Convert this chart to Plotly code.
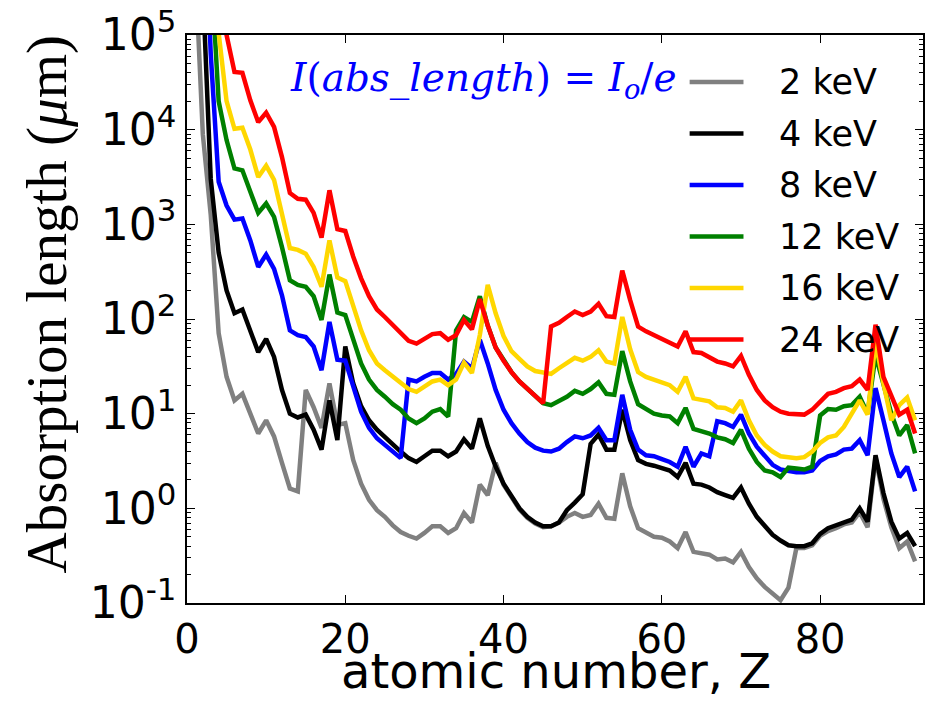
import plotly.graph_objects as go

# atomic number Z = 1..92
Z = list(range(1, 93))

# absorption length (um), one list per photon energy
abs_2keV = [6.3e5, 8900, 1260, 70.8, 24.5, 13.8, 16.2, 10.0, 6.17, 8.51,
            5.75, 3.02, 1.62, 1.51, 17.8, 11.7, 7.08, 20.9, 7.59, 7.94,
            3.24, 1.82, 1.23, 0.955, 0.813, 0.661, 0.562, 0.513, 0.479, 0.550,
            0.646, 0.646, 0.550, 0.617, 0.891, 0.708, 1.78, 1.38, 3.02, 1.78,
            1.29, 0.977, 0.794, 0.692, 0.631, 0.646, 0.708, 0.813, 0.891, 0.813,
            0.851, 1.12, 0.794, 0.776, 2.34, 1.05, 0.617, 0.550, 0.501, 0.490,
            0.447, 0.380, 0.562, 0.347, 0.331, 0.324, 0.288, 0.295, 0.269, 0.347,
            0.240, 0.182, 0.148, 0.126, 0.107, 0.145, 0.380, 0.380, 0.407, 0.513,
            0.575, 0.617, 0.676, 0.708, 0.912, 0.631, 3.47, 1.26, 0.631, 0.380,
            0.447, 0.275]
abs_4keV = [1e8, 3.16e5, 3020, 501, 200, 115, 126, 74.1, 44.7, 61.7,
            39.8, 17.8, 10.0, 9.12, 9.77, 6.76, 4.17, 13.8, 5.25, 51.3,
            20.9, 12.0, 8.51, 6.76, 5.62, 4.68, 3.98, 3.39, 3.09, 3.55,
            4.07, 4.07, 3.55, 3.98, 5.37, 4.27, 8.91, 4.57, 2.75, 1.82,
            1.32, 1.0, 0.813, 0.708, 0.646, 0.646, 0.708, 0.955, 1.15, 1.41,
            4.79, 6.03, 4.17, 4.17, 11.0, 5.25, 3.24, 2.95, 2.82, 2.63,
            2.51, 2.14, 3.02, 1.82, 1.78, 1.66, 1.48, 1.38, 1.29, 1.66,
            1.12, 0.813, 0.646, 0.525, 0.457, 0.407, 0.398, 0.398, 0.427, 0.537,
            0.617, 0.661, 0.724, 0.759, 1.0, 0.724, 3.63, 1.45, 0.724, 0.479,
            0.550, 0.398]
abs_8keV = [1e9, 1e7, 6.31e4, 2820, 1580, 1120, 1150, 676, 355, 479,
            339, 178, 75.9, 67.6, 64.6, 51.3, 28.8, 93.3, 37.2, 36.3,
            19.1, 10.5, 7.08, 5.50, 4.68, 3.98, 3.39, 22.9, 21.9, 24.5,
            26.9, 26.9, 22.9, 26.3, 35.5, 30.2, 60.3, 33.9, 17.8, 11.0,
            7.94, 6.17, 5.01, 4.37, 4.07, 3.98, 4.27, 5.01, 5.75, 5.50,
            5.89, 7.08, 5.25, 5.25, 15.8, 6.76, 4.17, 3.63, 3.55, 3.31,
            3.09, 2.75, 4.47, 2.75, 3.80, 3.55, 8.32, 7.94, 7.24, 9.77,
            6.17, 4.47, 3.55, 2.88, 2.57, 2.45, 2.40, 2.40, 2.51, 3.16,
            3.55, 3.72, 4.17, 4.27, 5.25, 3.63, 18.6, 8.51, 3.80, 2.14,
            2.75, 1.51]
abs_12keV = [3e9, 1e8, 5.75e5, 2.0e4, 7760, 3890, 3720, 2140, 1320, 1660,
             1200, 575, 257, 229, 219, 174, 97.7, 295, 117, 110,
             60.3, 33.9, 22.9, 17.8, 15.1, 12.6, 11.0, 8.91, 7.94, 8.91,
             10.5, 11.2, 9.33, 75.9, 105, 93.3, 174, 85.1, 50.1, 36.3,
             27.5, 21.9, 18.2, 15.1, 12.9, 12.3, 13.5, 15.1, 17.4, 16.2,
             18.2, 21.4, 16.2, 15.8, 45.7, 21.9, 12.6, 11.2, 10.0, 9.55,
             9.33, 7.94, 11.5, 6.92, 6.61, 6.17, 5.62, 5.37, 4.90, 6.76,
             4.27, 3.09, 2.51, 2.40, 2.14, 2.69, 2.63, 2.57, 2.75, 9.55,
             11.2, 11.0, 12.0, 12.3, 15.1, 10.0, 41.7, 19.5, 10.0, 5.89,
             7.59, 3.80]
abs_16keV = [6e9, 3e8, 3.16e6, 1.05e5, 2.0e4, 1.02e4, 1.05e4, 6170, 3160, 4170,
             2950, 1320, 562, 537, 490, 355, 219, 676, 275, 251,
             135, 75.9, 46.8, 33.9, 28.8, 24.5, 20.9, 18.2, 17.0, 19.5,
             21.9, 22.9, 20.0, 22.9, 34.7, 26.9, 67.6, 229, 115, 66.1,
             45.7, 38.0, 31.6, 28.2, 26.9, 26.3, 30.2, 33.9, 38.9, 36.3,
             39.8, 46.8, 35.5, 33.9, 105, 47.9, 27.5, 24.5, 22.9, 20.9,
             20.0, 17.0, 24.5, 14.5, 14.1, 13.5, 11.7, 11.5, 10.5, 13.8,
             8.51, 5.89, 4.68, 3.98, 3.55, 3.47, 3.39, 3.47, 3.98, 4.90,
             5.62, 5.89, 7.24, 10.0, 13.8, 9.77, 57.5, 20.9, 8.51, 12.3,
             14.8, 8.51]
abs_24keV = [1e10, 1e9, 1e7, 3.98e5, 1.0e5, 4.07e4, 3.98e4, 2.04e4, 1.2e4, 1.51e4,
             1.07e4, 5130, 2140, 1860, 1820, 1320, 724, 2290, 891, 851,
             457, 269, 174, 126, 105, 87.1, 70.8, 58.9, 55.0, 61.7,
             69.2, 70.8, 60.3, 67.6, 97.7, 77.6, 162, 85.1, 50.1, 36.3,
             27.5, 21.9, 18.2, 15.1, 12.9, 83.2, 91.2, 105, 120, 110,
             120, 145, 107, 105, 324, 158, 83.2, 74.1, 67.6, 61.7,
             57.5, 51.3, 74.1, 44.7, 43.7, 39.8, 35.5, 33.9, 31.6, 40.7,
             25.7, 17.8, 13.8, 11.7, 10.5, 10.0, 9.77, 9.77, 11.0, 13.5,
             16.2, 17.0, 18.6, 19.5, 22.9, 17.8, 87.1, 24.5, 15.1, 9.77,
             11.0, 6.17]

labels = ["2 keV", "4 keV", "8 keV", "12 keV", "16 keV", "24 keV"]
series = [abs_2keV, abs_4keV, abs_8keV, abs_12keV, abs_16keV, abs_24keV]
colors = ["#808080", "#000000", "#0000ff", "#008000", "#ffd700", "#ff0000"]

x_ticks = [0, 20, 40, 60, 80]
y_exps = [-1, 0, 1, 2, 3, 4, 5]

# plot-area geometry in pixels (for placing texts / legend)
L, R, T, B = 187, 925, 35, 603
W, H = 928, 701


def px(xp):
    return (xp - L) / (R - L)


def py(yp):
    return (B - yp) / (B - T)


fig = go.Figure()
for name, vals, col in zip(labels, series, colors):
    fig.add_trace(go.Scatter(x=Z, y=vals, mode="lines", name=name,
                             line=dict(color=col, width=4.5),
                             showlegend=False))

minor_vals = [m * 10 ** e for e in range(-1, 5) for m in range(2, 10)]

fig.update_layout(
    width=W, height=H,
    margin=dict(l=L, r=W - R, t=T, b=H - B),
    paper_bgcolor="white", plot_bgcolor="white",
    font=dict(family="DejaVu Sans", color="black"),
)
fig.update_xaxes(
    range=[0, 93], tickmode="array", tickvals=x_ticks,
    ticks="inside", ticklen=8, tickwidth=1.2, tickcolor="black",
    showline=True, linecolor="black", linewidth=1.5, mirror="ticks",
    showgrid=False, zeroline=False,
    tickfont=dict(family="DejaVu Sans", size=40, color="black"),
)
fig.update_yaxes(
    type="log", range=[-1, 5], tickmode="array",
    tickvals=[10.0 ** e for e in y_exps],
    ticktext=["10<sup>%d</sup>" % e for e in y_exps],
    ticks="inside", ticklen=8, tickwidth=1.2, tickcolor="black",
    minor=dict(tickmode="array", tickvals=minor_vals, ticks="inside",
               ticklen=4, tickwidth=1, tickcolor="black", showgrid=False),
    showline=True, linecolor="black", linewidth=1.5, mirror="ticks",
    showgrid=False, zeroline=False,
    tickfont=dict(family="DejaVu Sans", size=44, color="black"),
)

annotations = [
    dict(text="Absorption length (<i>μ</i>m)", textangle=-90,
         x=px(47), y=py(304), xref="paper", yref="paper",
         xanchor="center", yanchor="middle", showarrow=False,
         font=dict(family="Liberation Serif", size=57, color="black")),
    dict(text="atomic number, Z",
         x=px(557), y=py(701), xref="paper", yref="paper",
         xanchor="center", yanchor="bottom", showarrow=False,
         font=dict(family="DejaVu Sans", size=48, color="black")),
    dict(text="<i>I</i>(<i>abs_length</i>) = <i>I<sub>o</sub></i>/<i>e</i>",
         x=px(484), y=py(80), xref="paper", yref="paper",
         xanchor="center", yanchor="middle", showarrow=False,
         font=dict(family="DejaVu Serif", size=39, color="#0000ff")),
]
shapes = []
row_y = [82, 133.5, 185, 236.5, 288, 339.5]
for name, col, yy in zip(labels, colors, row_y):
    shapes.append(dict(type="line", xref="paper", yref="paper",
                       x0=px(691), x1=px(745), y0=py(yy), y1=py(yy),
                       line=dict(color=col, width=4.5)))
    annotations.append(dict(text=name, x=px(779), y=py(yy), xref="paper",
                            yref="paper", xanchor="left", yanchor="middle",
                            showarrow=False,
                            font=dict(family="DejaVu Sans", size=35,
                                      color="black")))
fig.update_layout(annotations=annotations, shapes=shapes)

fig.write_html("out.html")
